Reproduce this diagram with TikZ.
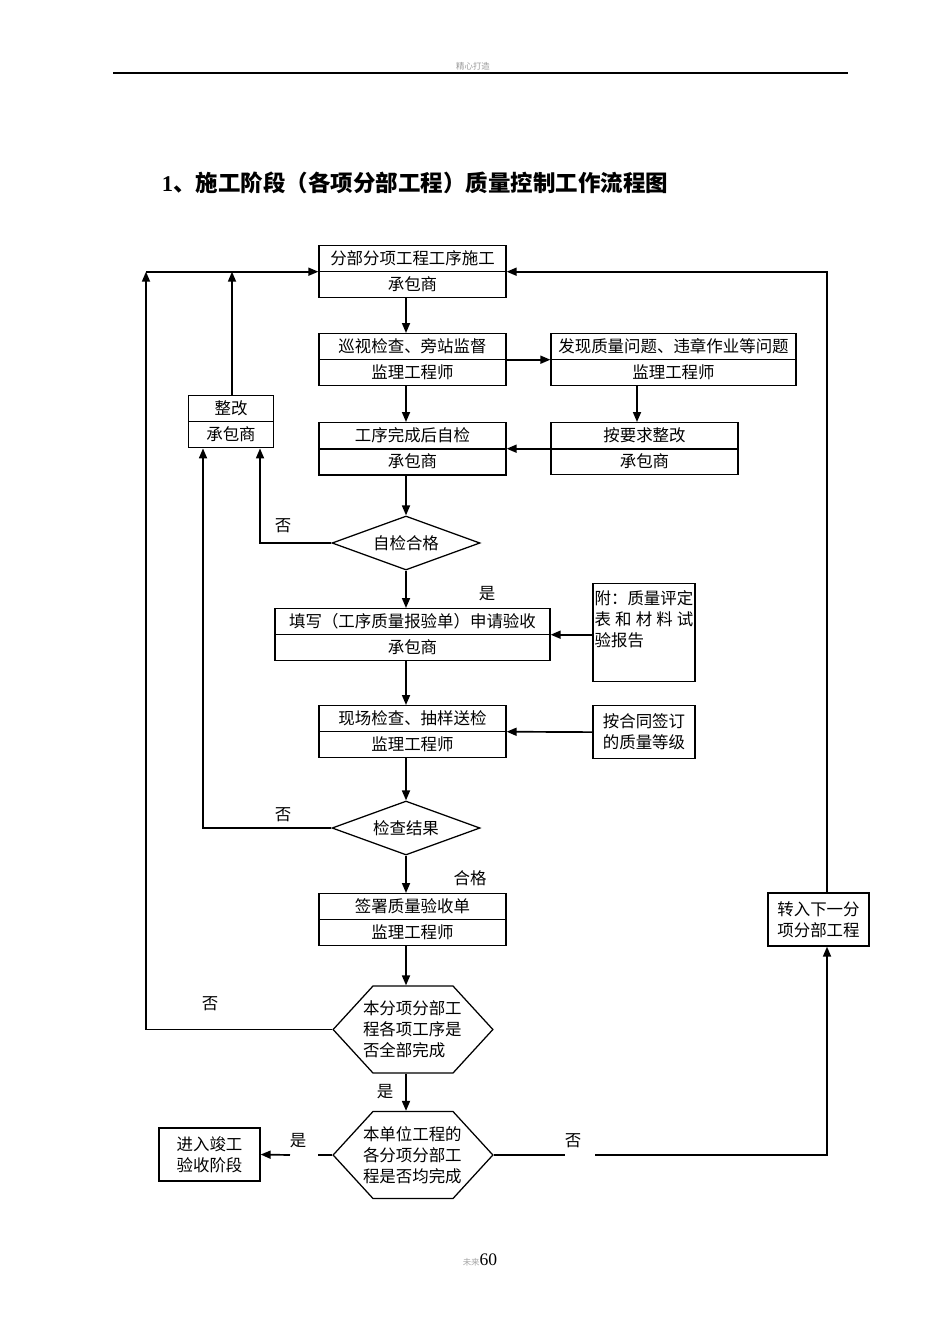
\documentclass[tikz,border=0pt]{standalone}
\usepackage{fontspec}
\setmainfont{Liberation Serif}
\newfontfamily\cjk{Noto Sans CJK SC}
\usetikzlibrary{arrows.meta,shapes.multipart,shapes.geometric,shapes.symbols}

\newcommand{\bxstrut}{\rule[-1.7mm]{0pt}{6.2mm}}

\begin{document}
\begin{tikzpicture}[x=0.25mm,y=-0.25mm,
  font=\cjk\fontsize{11.7}{15}\selectfont,
  twobox/.style={rectangle split, rectangle split parts=2, draw, line width=0.9pt,
    inner xsep=0pt, inner ysep=0pt, text width=#1, align=center},
  onebox/.style={draw, line width=0.9pt, inner sep=0pt, text width=#1,
    minimum height=13.25mm, align=center},
  decide/.style={diamond, draw, line width=0.9pt, inner sep=0pt, aspect=2.7,
    minimum width=37mm, minimum height=13.5mm},
  hexa/.style={signal, signal to=west and east, signal pointer angle=95, draw,
    line width=0.9pt, inner sep=0pt, minimum height=21.75mm},
  flow/.style={line width=1.2pt, -{Triangle[length=2.5mm,width=2mm]}},
  wire/.style={line width=1.2pt},
  lbl/.style={inner sep=0pt}
]

% page
\fill[white] (0,0) rectangle (945,1337);
\useasboundingbox (0,0) rectangle (945,1337);

% header and title
\draw[line width=0.8pt] (113,73) -- (848,73);
\node[lbl, text=black!40, font=\cjk\fontsize{6}{7}\selectfont] (head) at (473,66) {精心打造};
\node[lbl, font=\cjk\fontsize{16}{18}\selectfont\bfseries] (title) at (415,183)
  {{\rmfamily 1}、施工阶段（各项分部工程）质量控制工作流程图};

% main column
\node[twobox=46.75mm, anchor=north] (sg) at (412.5,245)
  {\bxstrut 分部分项工程工序施工\nodepart{two}\bxstrut 承包商};
\node[twobox=46.75mm, anchor=north] (xs) at (412.5,333)
  {\bxstrut 巡视检查、旁站监督\nodepart{two}\bxstrut 监理工程师};
\node[twobox=46.75mm, anchor=north] (zj) at (412.5,422)
  {\bxstrut 工序完成后自检\nodepart{two}\bxstrut 承包商};
\node[decide] (zjhg) at (406,543) {自检合格};
\node[twobox=68.75mm, anchor=north] (tx) at (412.5,608)
  {\bxstrut 填写（工序质量报验单）申请验收\nodepart{two}\bxstrut 承包商};
\node[twobox=46.75mm, anchor=north] (xc) at (412.5,705)
  {\bxstrut 现场检查、抽样送检\nodepart{two}\bxstrut 监理工程师};
\node[decide] (jcjg) at (406,828) {检查结果};
\node[twobox=46.75mm, anchor=north] (qs) at (412.5,893)
  {\bxstrut 签署质量验收单\nodepart{two}\bxstrut 监理工程师};
\node[hexa] (bfx) at (413,1029.5)
  {\makebox[20mm]{\parbox{25mm}{本分项分部工\\程各项工序是\\否全部完成}}};
\node[hexa] (bdw) at (413,1155)
  {\makebox[20mm]{\parbox{25mm}{本单位工程的\\各分项分部工\\程是否均完成}}};

% right side
\node[twobox=61.25mm, anchor=north] (fx) at (673.5,333)
  {\bxstrut 发现质量问题、违章作业等问题\nodepart{two}\bxstrut 监理工程师};
\node[twobox=46.75mm, anchor=north] (ay) at (644.5,422)
  {\bxstrut 按要求整改\nodepart{two}\bxstrut 承包商};
\node[draw, line width=0.9pt, inner xsep=0.4mm, inner ysep=0pt, anchor=north] (fj) at (644,583)
  {\parbox[c][24.5mm][t]{24.7mm}{\rule{0pt}{5.2mm}附：质量评定\\
   \makebox[\linewidth][s]{表\hfill 和\hfill 材\hfill 料\hfill 试}\\验报告}};
\node[onebox=25.5mm, anchor=north] (ht) at (644,705) {按合同签订\\的质量等级};
\node[onebox=25.25mm] (zr) at (818.5,919.5) {转入下一分\\项分部工程};

% left side
\node[twobox=21.25mm, anchor=north] (zg) at (231,395)
  {\bxstrut 整改\nodepart{two}\bxstrut 承包商};
\node[onebox=25.25mm] (jg) at (209.5,1154.5) {进入竣工\\验收阶段};

% heavier lines
\draw[line width=1.4pt] (zj.text split west) -- (zj.text split east);
\draw[line width=1.4pt] (zj.south west) -- (zj.south east);
\draw[line width=1.4pt] (ay.text split west) -- (ay.text split east);

% column lines
\coordinate (mid) at (406,0);
\coordinate (rc) at (637,0);
\coordinate (lc) at (146,0);
\coordinate (qc) at (827,0);
\coordinate (uc) at (232,0);

% down the column
\draw[flow] (sg.south -| mid) -- (xs.north -| mid);
\draw[flow] (xs.south -| mid) -- (zj.north -| mid);
\draw[flow] (zj.south -| mid) -- (zjhg.north);
\draw[flow] (zjhg.south) -- (tx.north -| mid);
\draw[flow] (tx.south -| mid) -- (xc.north -| mid);
\draw[flow] (xc.south -| mid) -- (jcjg.north);
\draw[flow] (jcjg.south) -- (qs.north -| mid);
\draw[flow] (qs.south -| mid) -- (bfx.north -| mid);
\draw[flow] (bfx.south -| mid) -- (bdw.north -| mid);

% side arrows
\draw[flow] (xs.east) -- (fx.west);
\draw[flow] (fx.south -| rc) -- (ay.north -| rc);
\draw[flow] (ay.west) -- (zj.east);
\draw[flow] (fj.west |- tx.east) -- (tx.east);
\draw[flow] (ht.west) -- (xc.east);

% back loops
\draw[flow] (zjhg.west) -| ([xshift=7.25mm]zg.south);
\draw[flow] (jcjg.west) -| ([xshift=-7mm]zg.south);
\draw[flow] (zg.north -| uc) -- (uc |- sg.west);
\draw[flow] (bfx.west) -| (lc |- sg.west);
\draw[flow] (lc |- sg.west) -- (sg.west);
\draw[flow] (zr.north -| qc) |- (sg.east);

% last decision
\coordinate (yl) at (318,1155);
\coordinate (yr) at (290,1155);
\coordinate (nl) at (565,1155);
\coordinate (nr) at (595,1155);
\draw[wire] (bdw.west) -- (yl);
\draw[flow] (yr) -- (jg.east);
\draw[wire] (bdw.east) -- (nl);
\draw[flow] (nr) -| (zr.south -| qc);

% labels
\node[lbl] (no1) at (283,526) {否};
\node[lbl] (yes1) at (487,594) {是};
\node[lbl] (no2) at (283,815) {否};
\node[lbl] (ok2) at (470,878) {合格};
\node[lbl] (no3) at (210,1004) {否};
\node[lbl] (yes3) at (385,1092) {是};
\node[lbl] (yes4) at (298,1141) {是};
\node[lbl] (no4) at (573,1141) {否};

% footer
\node[lbl] (foot) at (480,1260)
  {{\color{black!35}\fontsize{6}{7}\selectfont 未来}{\rmfamily\fontsize{12.5}{14}\selectfont 60}};

\end{tikzpicture}
\end{document}
